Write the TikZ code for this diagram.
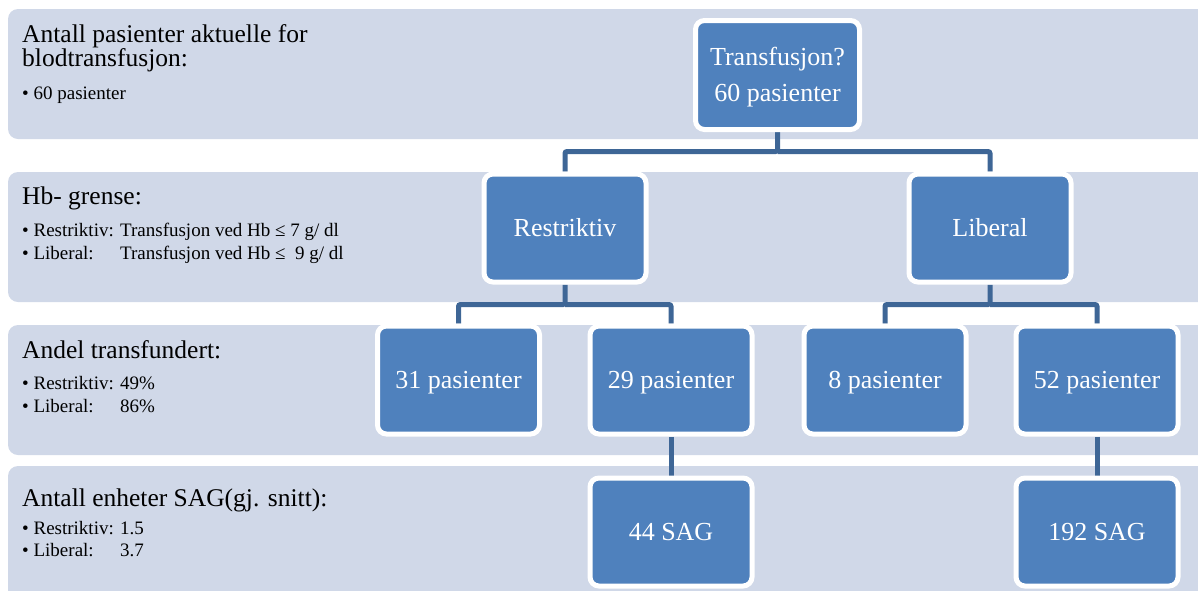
\documentclass[tikz,border=0pt]{standalone}
\usepackage{fontspec}
\usepackage{calc}
\setmainfont{Liberation Serif}
\definecolor{bandc}{RGB}{208,216,232}
\definecolor{boxc}{RGB}{79,129,189}
\definecolor{linec}{RGB}{62,102,150}
\newcommand{\lab}[1]{\makebox[\widthof{Restriktiv: }][l]{#1}}
\pgfdeclarelayer{bandlayer}
\pgfdeclarelayer{connlayer}
\pgfsetlayers{bandlayer,connlayer,main}
\tikzset{
  band/.style={fill=bandc, draw=none, rounded corners=10pt},
  bx/.style={fill=boxc, draw=white, line width=5pt, rounded corners=9pt,
     minimum width=162pt, minimum height=108pt, text=white, align=center,
     inner sep=0pt, text height=20pt, text depth=3pt, font=\fontsize{26}{36}\selectfont},
  conn/.style={draw=linec, line width=5pt, rounded corners=2pt},
  head/.style={anchor=base west, inner sep=0pt, font=\fontsize{25.5}{24}\selectfont, align=left},
  bul/.style={anchor=base west, inner sep=0pt, font=\fontsize{19}{22}\selectfont}
}
\begin{document}
\begin{tikzpicture}[x=1pt,y=-1pt]
\useasboundingbox (0,0) rectangle (1198,590);
\clip (0,0) rectangle (1198,590);
% bands
\begin{pgfonlayer}{bandlayer}
\path[band] (8,9) rectangle (1220,139);
\path[band] (8,172) rectangle (1220,302);
\path[band] (8,325) rectangle (1220,455);
\path[band] (8,466) rectangle (1220,610);
\end{pgfonlayer}
% left texts
\node[head] (h1a) at (22,42) {Antall pasienter aktuelle for};
\node[head] (h1b) at (22,66) {blodtransfusjon:};
\node[bul] (b1) at (22,99) {• 60 pasienter};
\node[head] (h2) at (22,204) {Hb- grense:};
\node[bul] (b2a) at (22,236) {• \lab{Restriktiv:}Transfusjon ved Hb ≤ 7 g/ dl};
\node[bul] (b2b) at (22,259) {• \lab{Liberal:}Transfusjon ved Hb ≤~ 9 g/ dl};
\node[head] (h3) at (22,358) {Andel transfundert:};
\node[bul] (b3a) at (22,389) {• \lab{Restriktiv:}49\%};
\node[bul] (b3b) at (22,412) {• \lab{Liberal:}86\%};
\node[head] (h4) at (22,506) {Antall enheter SAG(gj. snitt):};
\node[bul] (b4a) at (22,534) {• \lab{Restriktiv:}1.5};
\node[bul] (b4b) at (22,556) {• \lab{Liberal:}3.7};
% junctions
\coordinate (j1) at (777.5,151.5);
\coordinate (j2) at (565,304.5);
\coordinate (j3) at (990,304.5);
% boxes
\node[bx, minimum width=164pt, minimum height=109pt] (top) at (777.5,75) {};
\node[text=white, align=center, inner sep=0pt, font=\fontsize{26}{36}\selectfont] (toptxt) at (777.5,77) {Transfusjon?\\60 pasienter};
\node[bx] (res) at (565,228) {Restriktiv};
\node[bx] (lib) at (990,228) {Liberal};
\node[bx] (p31) at (458.5,380) {31 pasienter};
\node[bx] (p29) at (671,380) {29 pasienter};
\node[bx] (p8) at (885,380) {8 pasienter};
\node[bx] (p52) at (1097,380) {52 pasienter};
\node[bx] (s44) at (671,532) {44 SAG};
\node[bx] (s192) at (1097,532) {192 SAG};
% connectors
\begin{pgfonlayer}{connlayer}
\draw[conn] (top.south) -- (j1) -| (res.north);
\draw[conn] (j1) -| (lib.north);
\draw[conn] (res.south) -- (j2) -| (p31.north);
\draw[conn] (j2) -| (p29.north);
\draw[conn] (lib.south) -- (j3) -| (p8.north);
\draw[conn] (j3) -| (p52.north);
\draw[conn] (p29.south) -- (s44.north);
\draw[conn] (p52.south) -- (s192.north);
\end{pgfonlayer}
\end{tikzpicture}
\end{document}
